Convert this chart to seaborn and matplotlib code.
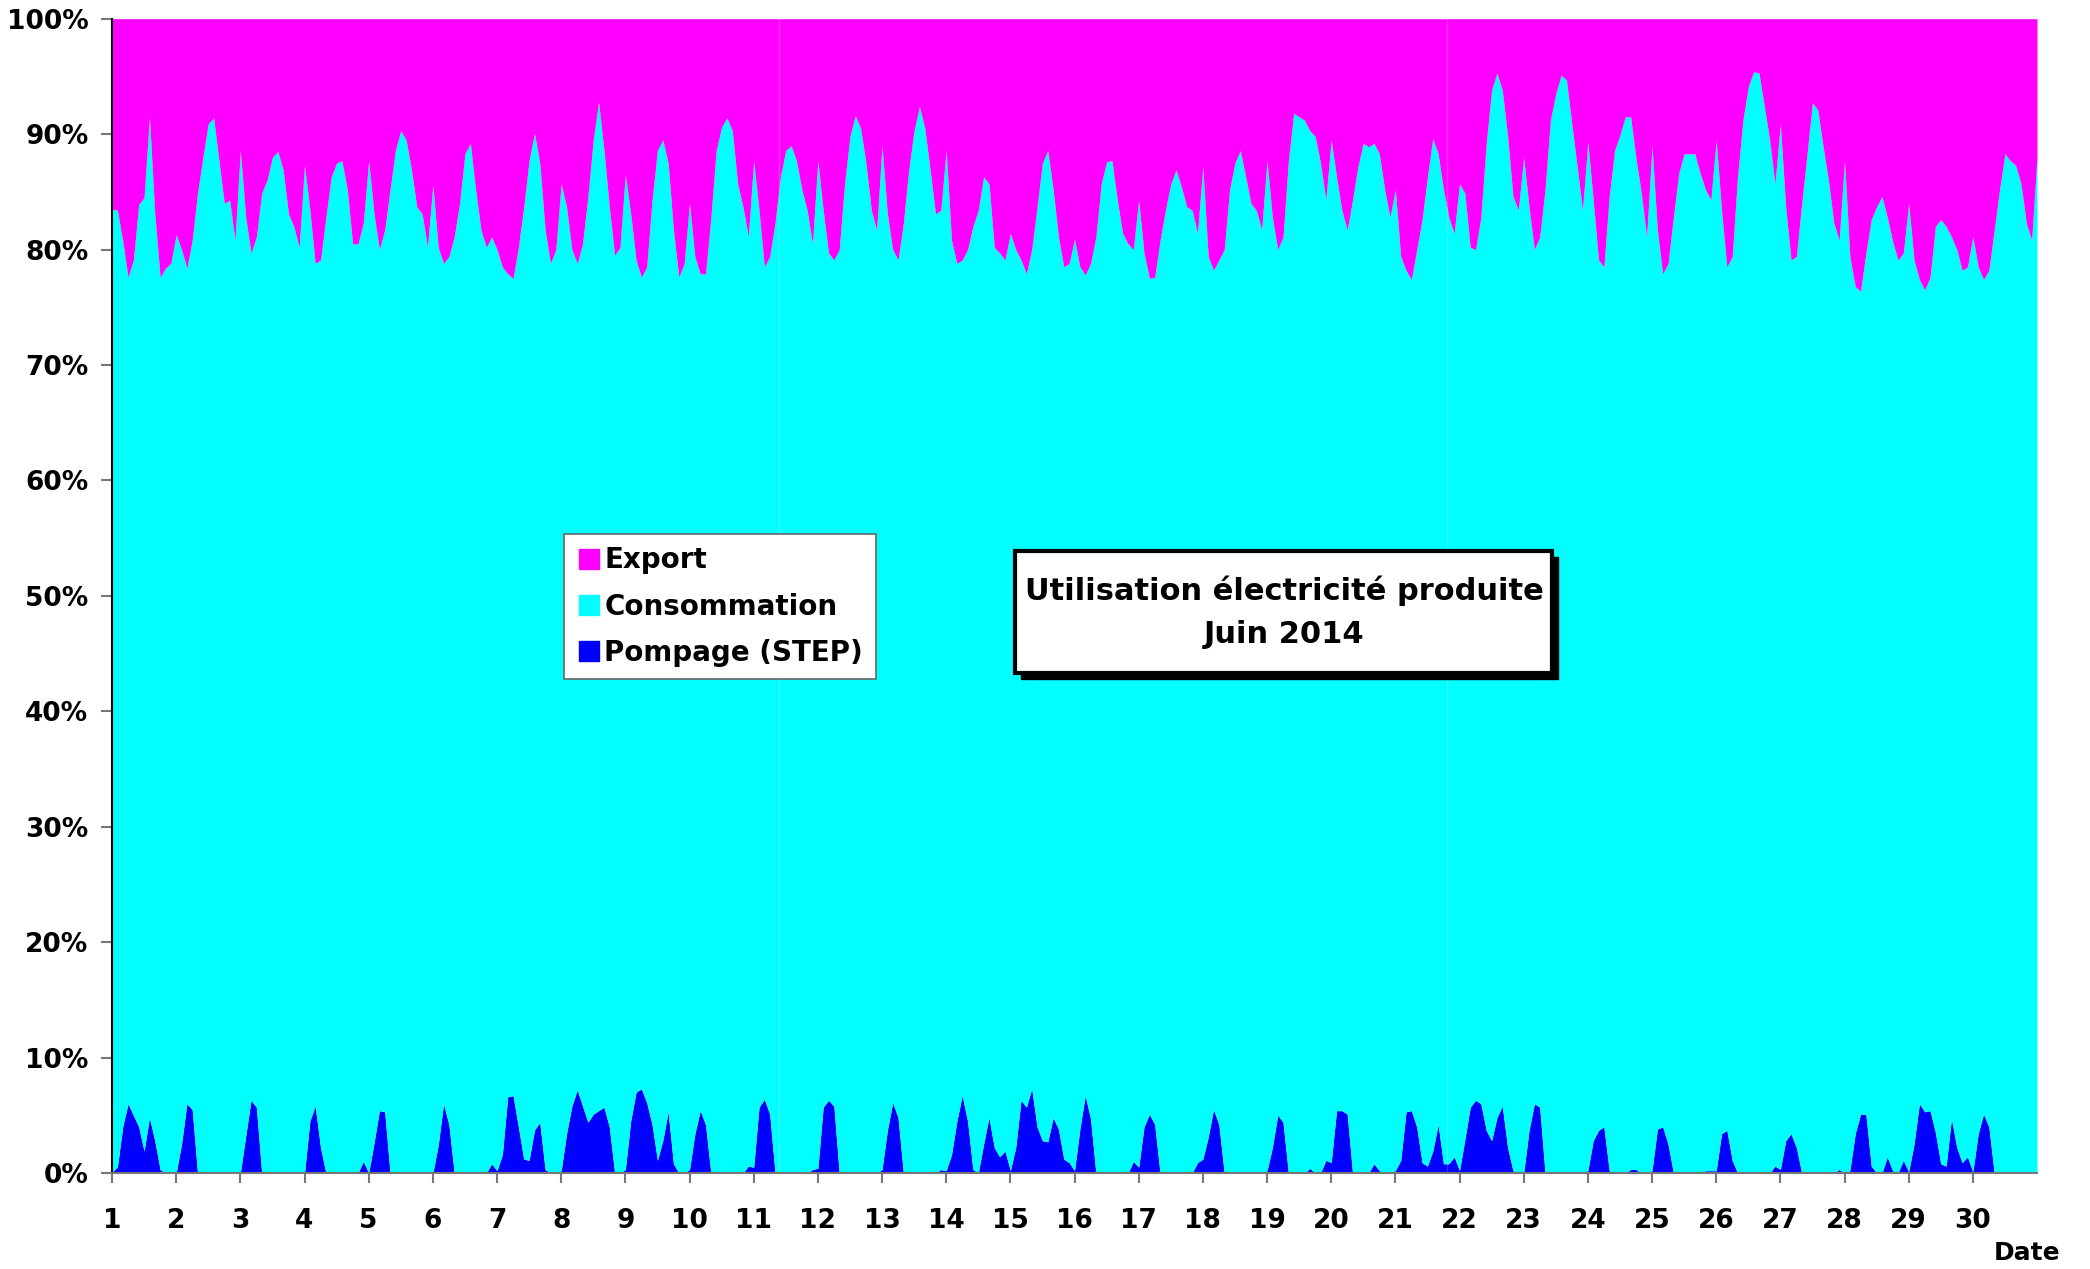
import numpy as np
import matplotlib
matplotlib.use("Agg")
import matplotlib.pyplot as plt
from matplotlib.lines import Line2D
from matplotlib.patches import Rectangle
import seaborn as sns

sns.set_style("white")
plt.rcParams['font.family'] = ['DejaVu Sans']
plt.rcParams['font.weight'] = 'bold'
plt.rcParams['text.color'] = 'black'
plt.rcParams['xtick.labelcolor'] = 'black'
plt.rcParams['ytick.labelcolor'] = 'black'

# June 2014, one value every 2 hours (00h, 02h, ... 22h), one row per day
# top of the cyan area = pompage + consommation, in % of production
top_pct = [
    [83.5, 83.4, 80.8, 77.6, 79.1, 83.9, 84.5, 91.5, 83.1, 77.6, 78.4, 78.8],
    [81.3, 80.0, 78.4, 80.8, 84.9, 88.0, 90.9, 91.4, 87.7, 84.0, 84.3, 80.8],
    [88.6, 82.8, 79.7, 81.1, 84.9, 86.0, 88.0, 88.5, 86.9, 83.1, 82.0, 80.2],
    [87.3, 83.4, 78.8, 79.1, 82.8, 86.3, 87.5, 87.7, 85.2, 80.5, 80.5, 82.3],
    [87.7, 83.1, 80.0, 81.7, 85.2, 88.6, 90.3, 89.5, 86.9, 83.7, 83.1, 80.2],
    [85.6, 80.2, 78.8, 79.4, 81.1, 84.0, 88.3, 89.2, 85.2, 81.7, 80.2, 81.1],
    [80.0, 78.5, 77.9, 77.5, 80.2, 83.7, 87.7, 90.1, 87.5, 81.7, 78.8, 80.0],
    [85.7, 83.7, 80.0, 78.8, 80.5, 84.6, 89.5, 92.8, 88.6, 83.7, 79.5, 80.2],
    [86.5, 83.1, 79.1, 77.6, 78.5, 84.3, 88.6, 89.5, 87.5, 81.7, 77.6, 78.8],
    [84.0, 79.4, 77.9, 77.9, 82.8, 88.6, 90.6, 91.4, 90.3, 85.7, 83.7, 81.1],
    [87.7, 83.4, 78.5, 79.4, 82.3, 86.3, 88.6, 89.0, 87.7, 85.2, 83.4, 80.5],
    [87.7, 83.4, 79.7, 79.1, 80.0, 85.7, 89.8, 91.6, 90.5, 87.5, 83.4, 81.7],
    [89.0, 83.1, 80.0, 79.1, 82.3, 86.9, 90.3, 92.4, 90.5, 86.9, 83.1, 83.4],
    [88.6, 80.8, 78.8, 79.1, 80.0, 82.0, 83.4, 86.3, 85.7, 80.2, 79.7, 79.1],
    [81.4, 80.0, 79.1, 77.9, 80.0, 83.7, 87.5, 88.6, 85.2, 81.1, 78.5, 78.8],
    [80.9, 78.5, 77.8, 78.8, 81.1, 85.7, 87.6, 87.7, 84.3, 81.4, 80.5, 80.0],
    [84.3, 79.7, 77.5, 77.6, 80.8, 83.4, 85.7, 86.9, 85.4, 83.7, 83.4, 81.4],
    [87.2, 79.4, 78.2, 79.1, 80.0, 85.2, 87.5, 88.6, 86.3, 84.0, 83.4, 81.7],
    [87.7, 82.8, 80.0, 81.1, 87.7, 91.8, 91.5, 91.2, 90.3, 89.8, 87.5, 84.3],
    [89.5, 86.3, 83.4, 81.7, 84.3, 87.2, 89.2, 88.9, 89.2, 88.3, 85.2, 82.8],
    [85.2, 79.4, 78.2, 77.4, 80.0, 82.6, 86.3, 89.6, 88.3, 85.2, 82.8, 81.4],
    [85.7, 84.9, 80.2, 80.0, 82.8, 89.2, 93.8, 95.3, 93.8, 89.8, 84.6, 83.4],
    [88.0, 83.7, 80.0, 81.1, 85.2, 91.2, 93.5, 95.1, 94.7, 90.9, 87.2, 83.4],
    [89.3, 84.3, 79.1, 78.5, 84.6, 88.6, 89.9, 91.5, 91.5, 87.9, 84.9, 81.1],
    [89.0, 81.7, 77.9, 78.8, 82.8, 86.6, 88.3, 88.3, 88.3, 86.6, 85.2, 84.3],
    [89.5, 83.4, 78.5, 79.4, 86.3, 91.2, 94.1, 95.4, 95.3, 92.4, 89.5, 85.7],
    [90.9, 83.7, 79.1, 79.4, 84.0, 88.3, 92.7, 92.1, 88.9, 86.0, 82.3, 80.8],
    [87.7, 79.4, 76.8, 76.4, 79.7, 82.6, 83.7, 84.6, 82.8, 80.7, 79.1, 79.7],
    [84.0, 79.1, 77.4, 76.5, 77.6, 82.0, 82.6, 82.0, 81.1, 80.0, 78.2, 78.5],
    [81.1, 78.5, 77.4, 78.2, 81.7, 85.2, 88.3, 87.7, 87.3, 85.7, 82.3, 80.8],
]
top_end = 88.0  # 1 July 00h

# pompage (STEP), in % of production
pompage_pct = [
    [0.1, 0.5, 4.0, 6.0, 5.0, 4.0, 1.9, 4.8, 2.8, 0.3, 0, 0],
    [0, 2.5, 6.0, 5.5, 0, 0, 0, 0, 0, 0, 0, 0],
    [0, 3.2, 6.3, 5.7, 0, 0, 0, 0, 0, 0, 0, 0],
    [0, 4.5, 5.8, 2.2, 0, 0, 0, 0, 0, 0, 0, 1.0],
    [0, 2.6, 5.4, 5.3, 0, 0, 0, 0, 0, 0, 0, 0],
    [0, 2.4, 6.0, 4.2, 0, 0, 0, 0, 0, 0, 0, 0.8],
    [0.2, 1.6, 6.6, 6.7, 4.0, 1.2, 1.1, 3.7, 4.4, 0.3, 0, 0],
    [0.2, 3.4, 5.8, 7.2, 5.8, 4.4, 5.1, 5.4, 5.7, 4.0, 0, 0],
    [0.3, 4.5, 7.0, 7.3, 6.1, 4.2, 1.1, 2.8, 5.3, 0.8, 0, 0],
    [0.3, 3.4, 5.4, 4.2, 0, 0, 0, 0, 0, 0, 0, 0.6],
    [0.5, 5.7, 6.4, 5.1, 0, 0, 0, 0, 0, 0, 0, 0.3],
    [0.4, 5.7, 6.3, 5.8, 0, 0, 0, 0, 0, 0, 0, 0],
    [0.3, 3.7, 6.1, 4.8, 0, 0, 0, 0, 0, 0, 0, 0.3],
    [0.2, 1.6, 4.5, 6.7, 4.5, 0.3, 0, 2.5, 4.8, 2.2, 1.4, 1.9],
    [0.2, 2.2, 6.3, 5.7, 7.3, 4.0, 2.8, 2.7, 4.8, 3.8, 1.2, 0.9],
    [0.2, 3.8, 6.7, 4.7, 0, 0, 0, 0, 0, 0, 0, 1.0],
    [0.5, 4.0, 5.1, 4.2, 0, 0, 0, 0, 0, 0, 0, 0.9],
    [1.2, 3.1, 5.5, 4.2, 0, 0, 0, 0, 0, 0, 0, 0],
    [0.2, 2.2, 5.0, 4.4, 0, 0, 0, 0, 0.4, 0, 0, 1.1],
    [0.9, 5.4, 5.4, 5.1, 0, 0, 0, 0, 0.8, 0.2, 0, 0],
    [0.2, 1.1, 5.3, 5.4, 4.0, 0.9, 0.6, 1.9, 4.2, 0.8, 0.8, 1.4],
    [0.2, 2.9, 5.7, 6.3, 6.0, 3.7, 2.8, 4.8, 5.8, 2.2, 0.2, 0],
    [0, 3.7, 6.0, 5.7, 0, 0, 0, 0, 0, 0, 0, 0],
    [0.2, 2.8, 3.7, 4.0, 0.2, 0, 0, 0, 0.3, 0.3, 0, 0],
    [0.2, 3.8, 4.0, 2.5, 0, 0, 0, 0, 0, 0, 0.2, 0.2],
    [0.2, 3.4, 3.7, 1.1, 0, 0, 0, 0, 0, 0, 0, 0.6],
    [0.3, 2.8, 3.4, 2.2, 0, 0, 0, 0, 0, 0, 0, 0.3],
    [0, 0.2, 3.4, 5.1, 5.1, 0.6, 0, 0, 1.4, 0.2, 0, 1.1],
    [0.1, 2.5, 6.0, 5.3, 5.4, 3.5, 0.8, 0.6, 4.7, 2.2, 0.9, 1.4],
    [0.1, 3.4, 5.1, 4.0, 0, 0, 0, 0, 0, 0, 0, 0],
]
pompage_end = 0.0

days = list(range(1, 31))
yticks = list(range(0, 101, 10))
series_names = ["Export", "Consommation", "Pompage (STEP)"]
colors = {"Export": "#ff00ff", "Consommation": "#00ffff", "Pompage (STEP)": "#0000ff"}

top = np.append(np.ravel(top_pct), top_end)
pomp = np.append(np.ravel(pompage_pct), pompage_end)
conso = top - pomp
export = 100 - top
x = 1 + np.arange(len(top)) * 2 / 24.0

W, H = 2090, 1269
fig = plt.figure(figsize=(W / 100, H / 100), dpi=100)
ax = fig.add_axes([112 / W, 1 - 1173 / H, (2037 - 112) / W, (1173 - 18.7) / H])

ax.stackplot(x, pomp, conso, export,
             colors=[colors["Pompage (STEP)"], colors["Consommation"], colors["Export"]],
             linewidth=0, antialiased=False)
# faint seams visible in the original export
for xs in [11.4, 21.8]:
    ax.axvline(xs, color="white", alpha=0.2, lw=1)
ax.set_xlim(1, 31)
ax.set_ylim(0, 100)

ax.set_xticks(days)
ax.set_xticklabels([str(d) for d in days])
ax.set_yticks(yticks)
ax.set_yticklabels([f"{v}%" for v in yticks])
ax.tick_params(axis="x", direction="out", length=7, width=1.5, color="#777777",
               pad=18, labelsize=19, bottom=True)
ax.tick_params(axis="y", direction="out", length=8, width=1.5, color="#777777",
               pad=9, labelsize=19, left=True)
for lab in ax.get_xticklabels() + ax.get_yticklabels():
    lab.set_fontweight("bold")

for s in ["top", "right"]:
    ax.spines[s].set_visible(False)
ax.spines["left"].set_color("black")
ax.spines["left"].set_linewidth(1.5)
ax.spines["bottom"].set_color("#777777")
ax.spines["bottom"].set_linewidth(1.5)
ax.grid(False)

# legend
handles = [Line2D([], [], marker="s", linestyle="", markersize=14,
                  markerfacecolor=colors[n], markeredgecolor=colors[n]) for n in series_names]
leg = fig.legend(handles, series_names, loc="upper left",
                 bbox_to_anchor=(564 / W, 1 - 534 / H), bbox_transform=fig.transFigure,
                 frameon=True, fancybox=False, framealpha=1, edgecolor="#666666",
                 borderaxespad=0, borderpad=0.45, handletextpad=0.1, handlelength=0.9,
                 labelspacing=0.65, prop={"weight": "bold", "size": 20})
leg.get_frame().set_linewidth(1.2)

# title box with shadow
shadow = Rectangle((1021 / W, 1 - 679 / H), (1558 - 1021) / W, (679 - 557) / H,
                   transform=fig.transFigure, facecolor="black", edgecolor="black", zorder=5)
box = Rectangle((1015 / W, 1 - 673 / H), (1552 - 1015) / W, (673 - 551) / H,
                transform=fig.transFigure, facecolor="white", edgecolor="black",
                linewidth=3, zorder=6)
fig.add_artist(shadow)
fig.add_artist(box)
fig.text(1284 / W, 1 - 612 / H, "Utilisation électricité produite\nJuin 2014",
         ha="center", va="center", fontsize=22, fontweight="bold",
         linespacing=1.6, zorder=7)

fig.text(2060 / W, 1 - 1253 / H, "Date", ha="right", va="center",
         fontsize=18, fontweight="bold")

fig.savefig("out.png", dpi=100)
